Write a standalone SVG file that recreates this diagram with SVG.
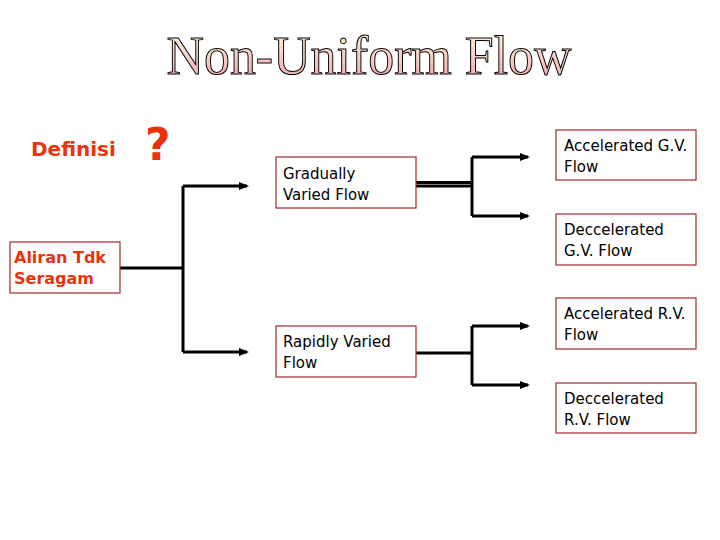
<svg xmlns="http://www.w3.org/2000/svg" width="720" height="540" viewBox="0 0 720 540">
<style>
.box{fill:#fff;stroke:#a0282c;stroke-width:1.2}
.t{font-family:"DejaVu Sans",sans-serif;font-size:15px;fill:#000}
.r{font-family:"DejaVu Sans",sans-serif;font-size:16px;font-weight:bold;fill:#e8330c}
.c{fill:none;stroke:#000;stroke-width:3}
</style>
<defs>
<linearGradient id="g" x1="0" y1="0" x2="0" y2="1"><stop offset="0" stop-color="#fffde0"/><stop offset="1" stop-color="#f0a0a8"/></linearGradient>
<marker id="a" markerWidth="10" markerHeight="10" refX="8" refY="5" orient="auto" markerUnits="userSpaceOnUse" viewBox="0 0 10 10"><path d="M0,1 L10,5 L0,9z" fill="#000"/></marker>
</defs>
<rect width="720" height="540" fill="#fff"/>
<text x="369" y="74" text-anchor="middle" font-family="Liberation Serif,serif" font-size="54" fill="url(#g)" stroke="#000" stroke-width="1" textLength="405" lengthAdjust="spacingAndGlyphs">Non-Uniform Flow</text>
<text x="31" y="156" class="r" style="font-size:20px">Definisi</text>
<text x="145" y="160" font-family="DejaVu Sans,sans-serif" font-weight="bold" font-size="44" fill="#e8330c">?</text>
<g id="connectors">
<path class="c" d="M120,268 H183 M183,186 V352"/>
<path class="c" d="M183,186 H247" marker-end="url(#a)"/>
<path class="c" d="M183,352 H247" marker-end="url(#a)"/>
<path class="c" d="M472,157 V216" stroke-width="2.5"/>
<path class="c" d="M472,157 H528" marker-end="url(#a)"/>
<path class="c" d="M472,216 H528" marker-end="url(#a)"/>
<path class="c" d="M416,182.5 H472 M416,186 H472" stroke-width="1.7"/>
<path class="c" d="M472,326 V385"/>
<path class="c" d="M472,326 H528" marker-end="url(#a)"/>
<path class="c" d="M472,385 H528" marker-end="url(#a)"/>
<path class="c" d="M416,353 H472" stroke-width="5"/>
</g>
<g id="aliran"><rect class="box" x="10" y="242" width="110" height="51"/><text class="r" x="14" y="263">Aliran Tdk</text><text class="r" x="14" y="284">Seragam</text></g>
<g id="gvf"><rect class="box" x="276" y="157" width="140" height="51"/><text class="t" x="283" y="179">Gradually</text><text class="t" x="283" y="200">Varied Flow</text></g>
<g id="rvf"><rect class="box" x="276" y="326" width="140" height="51"/><text class="t" x="283" y="347">Rapidly Varied</text><text class="t" x="283" y="368">Flow</text></g>
<g id="agv"><rect class="box" x="556" y="130" width="140" height="50"/><text class="t" x="564" y="151">Accelerated G.V.</text><text class="t" x="564" y="172">Flow</text></g>
<g id="dgv"><rect class="box" x="556" y="214" width="140" height="51"/><text class="t" x="564" y="235">Deccelerated</text><text class="t" x="564" y="256">G.V. Flow</text></g>
<g id="arv"><rect class="box" x="556" y="298" width="140" height="51"/><text class="t" x="564" y="319">Accelerated R.V.</text><text class="t" x="564" y="340">Flow</text></g>
<g id="drv"><rect class="box" x="556" y="383" width="140" height="50"/><text class="t" x="564" y="404">Deccelerated</text><text class="t" x="564" y="425">R.V. Flow</text></g>
</svg>
